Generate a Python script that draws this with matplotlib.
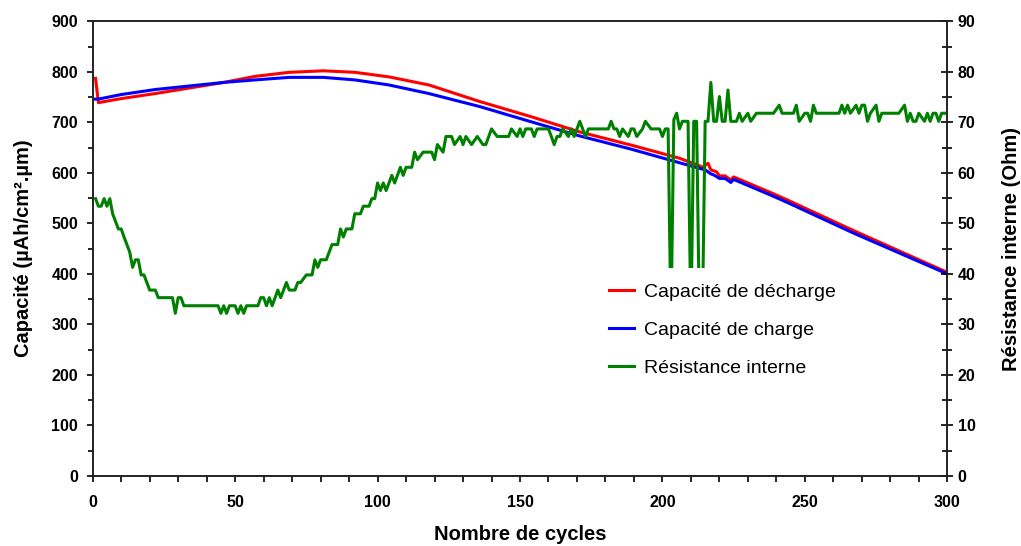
import matplotlib
matplotlib.use("Agg")
import matplotlib.pyplot as plt
from matplotlib.ticker import MultipleLocator

plt.rcParams['font.family'] = ['Liberation Sans', 'DejaVu Sans']

# Capacité de décharge (red)
dech_cycles = [1, 2, 10, 22, 34, 46, 57, 69, 81, 92, 104, 118, 136, 154, 171, 189,
               206, 213, 214, 216, 217, 219, 220, 222, 224, 225, 238, 244, 267, 300]
dech_vals = [787, 739, 747, 757, 768, 779, 791, 799, 802, 799, 790, 774, 741, 711, 681, 655,
             629, 614, 611, 619, 606, 602, 594, 594, 586, 592, 561, 546, 486, 403]

# Capacité de charge (blue)
ch_cycles = [1, 2, 10, 22, 34, 46, 57, 69, 75, 81, 92, 104, 118, 136, 154, 171, 189,
             206, 213, 215, 217, 218, 220, 222, 224, 225, 238, 244, 267, 300]
ch_vals = [746, 746, 755, 765, 772, 779, 784, 789, 789, 789, 784, 774, 757, 731, 701, 673, 647,
           620, 609, 606, 598, 596, 589, 589, 581, 587, 556, 541, 481, 400]

# Résistance interne (green), Ohm
res_cycles = [1, 2, 3, 4, 5, 6, 7, 8, 9, 10, 11, 13, 14, 15, 16, 17, 18, 20, 22, 23, 28, 29, 30, 31, 32,
              44, 45, 46, 47, 48, 50, 51, 52, 53, 54, 58, 59, 60, 61, 62, 63, 65, 66, 68, 69, 71, 72, 73,
              75, 77, 78, 79, 80, 82, 84, 86, 87, 88, 89, 91, 92, 94, 95, 97, 98, 99, 100, 101, 102, 103,
              105, 106, 108, 109, 110, 112, 113, 114, 116, 119, 120, 121, 123, 124, 126, 127, 129, 130,
              131, 133, 135, 137, 138, 140, 142, 146, 147, 149, 150, 151, 152, 154, 155, 156, 160, 161,
              162, 163, 164, 165, 167, 168, 169, 170, 171, 172, 173, 174, 181, 182, 183, 184, 185, 186,
              188, 189, 190, 191, 193, 194, 196, 199, 200, 201, 202, 203, 204, 205, 206, 207, 209, 210,
              211, 212, 213, 214, 215, 216, 217, 218, 219, 220, 221, 222, 223, 224, 226, 227, 228, 230,
              231, 233, 239, 241, 242, 246, 247, 248, 250, 251, 252, 253, 254, 262, 263, 264, 265, 266,
              268, 269, 270, 271, 272, 273, 275, 276, 277, 283, 285, 286, 287, 288, 289, 290, 292, 293,
              294, 295, 296, 297, 298, 300]
res_ohm = [54.9, 53.4, 53.4, 54.9, 53.4, 54.9, 51.9, 50.4, 48.9, 48.9, 47.3, 44.3, 41.3, 42.8, 42.8,
           39.8, 39.8, 36.8, 36.8, 35.3, 35.3, 32.2, 35.3, 35.3, 33.7,
           33.7, 32.2, 33.7, 32.2, 33.7, 33.7, 32.2, 33.7, 32.2, 33.7, 33.7, 35.3, 35.3, 33.7, 35.3,
           33.7, 36.8, 35.3, 38.3, 36.8, 36.8, 38.3, 38.3,
           39.8, 39.8, 42.8, 41.3, 42.8, 42.8, 45.8, 45.8, 48.9, 47.3, 48.9, 48.9, 51.9, 51.9, 53.4,
           53.4, 54.9, 54.9, 58.0, 56.5, 58.0, 56.5,
           59.5, 58.0, 61.1, 59.5, 61.1, 61.1, 64.1, 62.6, 64.1, 64.1, 62.6, 65.6, 64.1, 67.2, 67.2,
           65.6, 67.2, 65.6,
           67.2, 65.6, 67.2, 65.6, 65.6, 68.7, 67.2, 67.2, 68.7, 67.2, 68.7, 67.2, 68.7, 68.7, 67.2,
           68.7, 68.7, 67.2,
           65.6, 67.2, 67.2, 68.7, 67.2, 68.7, 67.2, 68.7, 70.2, 68.7, 67.2, 68.7, 68.7, 70.2, 68.7,
           68.7, 67.2, 68.7,
           67.2, 68.7, 68.7, 67.2, 68.7, 70.2, 68.7, 68.7, 67.2, 68.7, 68.7, 30.0, 70.5, 71.8, 68.7,
           70.2, 70.2, 30.0,
           70.2, 70.2, 30.0, 30.0, 70.2, 70.2, 77.9, 70.2, 70.2, 75.1, 70.2, 70.2, 76.4, 70.2, 70.2,
           71.8, 70.2, 71.8,
           70.2, 71.8, 71.8, 73.4, 71.8, 71.8, 73.4, 70.2, 71.8, 71.8, 70.2, 73.4, 71.8, 71.8, 73.4,
           71.8, 73.4, 71.8,
           73.4, 71.8, 73.4, 73.4, 70.2, 71.8, 73.4, 70.2, 71.8, 71.8, 73.4, 70.2, 71.8, 70.2, 70.2,
           71.8, 70.2, 71.8,
           70.2, 71.8, 71.8, 70.2, 71.8, 71.8]

fig, ax = plt.subplots(figsize=(10.21, 5.46), dpi=100)
fig.subplots_adjust(left=0.0908, right=0.9278, top=0.961, bottom=0.1282)
ax2 = ax.twinx()

l1, = ax.plot(dech_cycles, dech_vals, color='#FF0000', lw=2.2, label='Capacité de décharge')
l2, = ax.plot(ch_cycles, ch_vals, color='#0000FF', lw=2.2, label='Capacité de charge')
l3, = ax2.plot(res_cycles, res_ohm, color='#008000', lw=2.2, label='Résistance interne')

ax.set_xlim(0, 300)
ax.set_ylim(0, 900)
ax2.set_ylim(0, 90)

ax.xaxis.set_major_locator(MultipleLocator(50))
ax.xaxis.set_minor_locator(MultipleLocator(10))
ax.yaxis.set_major_locator(MultipleLocator(100))
ax.yaxis.set_minor_locator(MultipleLocator(50))
ax2.yaxis.set_major_locator(MultipleLocator(10))
ax2.yaxis.set_minor_locator(MultipleLocator(5))

ax.tick_params(axis='x', which='major', direction='out', length=4, width=1.2, pad=10)
ax.tick_params(axis='x', which='minor', direction='out', length=4, width=1.2)
ax.tick_params(axis='y', which='major', direction='out', length=4, width=1.2, pad=6.5)
ax.tick_params(axis='y', which='minor', direction='out', length=3.3, width=1.2)
ax2.tick_params(axis='y', which='major', direction='inout', length=9, width=1.2, pad=3)
ax2.tick_params(axis='y', which='minor', direction='inout', length=7, width=1.2)
for lab in ax.get_xticklabels() + ax.get_yticklabels() + ax2.get_yticklabels():
    lab.set_fontsize(11.5)
    lab.set_fontweight('bold')

for a in (ax, ax2):
    for s in a.spines.values():
        s.set_linewidth(1.2)
        s.set_color('#222222')

ax.set_xlabel('Nombre de cycles', fontsize=14.5, fontweight='bold')
ax.set_ylabel('Capacité (µAh/cm².µm)', fontsize=14.5, fontweight='bold')
ax2.set_ylabel('Résistance interne (Ohm)', fontsize=14.5, fontweight='bold')
ax.xaxis.set_label_coords(0.5, -0.108)
ax.yaxis.set_label_coords(-0.07, 0.5)
ax2.yaxis.set_label_coords(1.064, 0.5)

leg = ax2.legend(handles=[l1, l2, l3], loc='upper left', bbox_to_anchor=(0.574, 0.479),
                 fontsize=14, frameon=True, fancybox=False, framealpha=1,
                 facecolor='white', edgecolor='none', handlelength=1.3,
                 handletextpad=0.5, labelspacing=1.05, borderpad=0.8)
leg.set_zorder(10)

fig.savefig('out.png', dpi=100)
